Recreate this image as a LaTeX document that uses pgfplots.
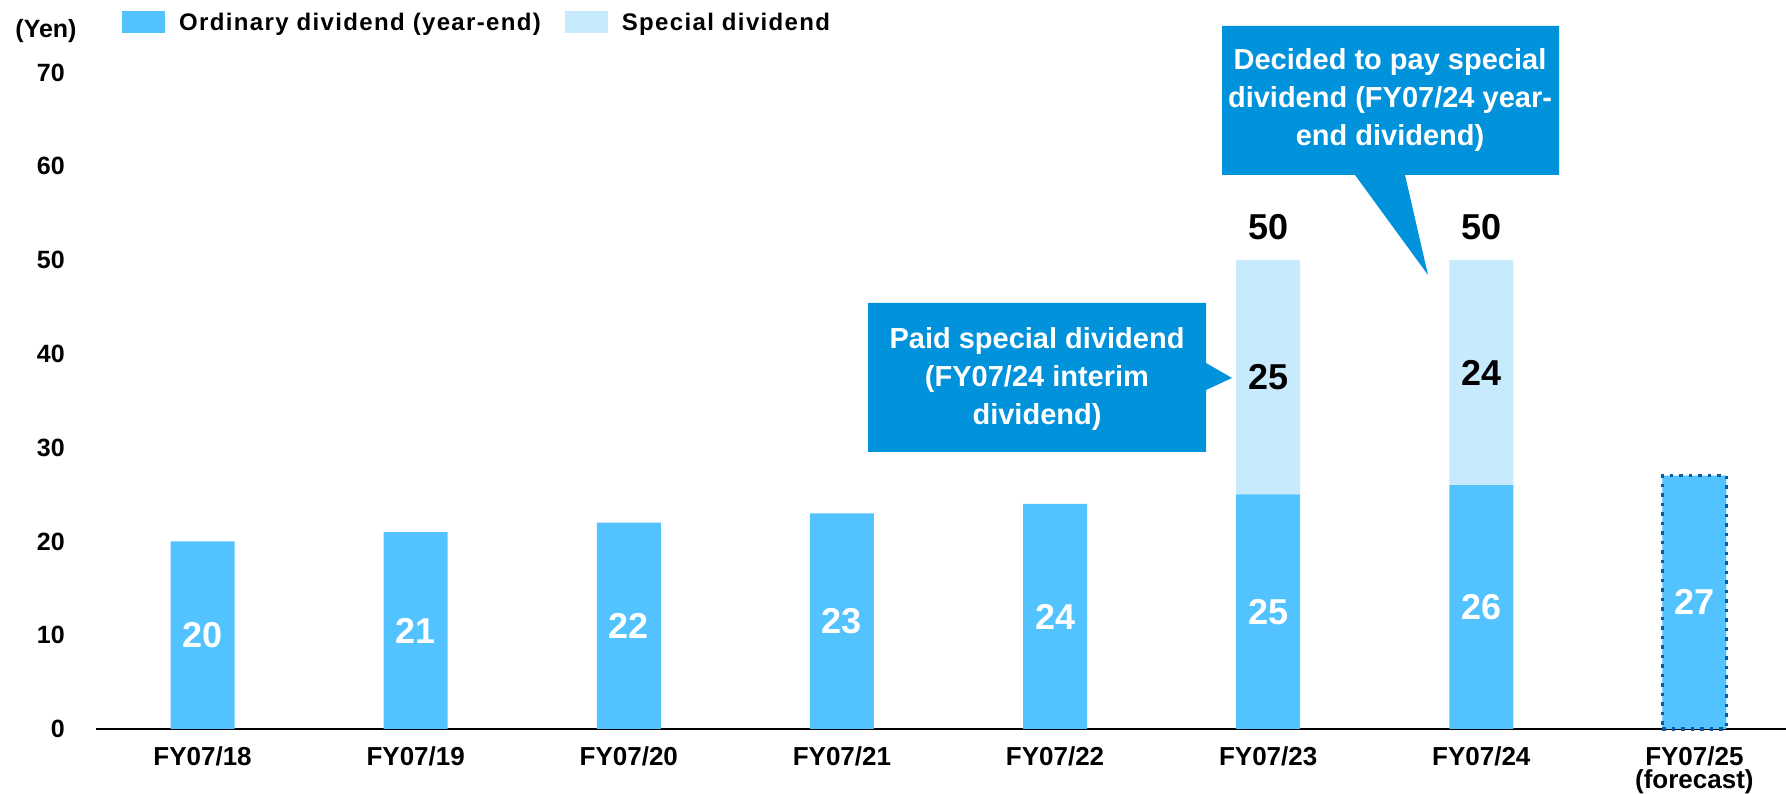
\documentclass[border=0pt]{standalone}
\usepackage{pgfplots}
\pgfplotsset{compat=1.18}
\usepackage{fontspec}
\setmainfont{Liberation Sans}
\newfontfamily\legfont{Liberation Sans}[LetterSpace=5.6]
\definecolor{ord}{HTML}{52C3FF}
\definecolor{spec}{HTML}{C7EBFD}
\definecolor{call}{HTML}{0092DA}
\definecolor{dotc}{HTML}{0A5C9C}

\pgfplotsset{base/.style={
  scale only axis, width=1690pt, height=656.6pt,
  at={(96pt,65pt)}, anchor=south west,
  xmin=-0.5, xmax=7.43, ymin=0, ymax=70,
}}

\begin{document}
\begin{tikzpicture}
\useasboundingbox (0,0) rectangle (1786pt,794pt);
\begin{axis}[base,
  ybar stacked, bar width=64pt,
  axis x line*=bottom, axis y line*=left,
  y axis line style={draw=none},
  x axis line style={black, line width=2.2pt, -},
  major tick length=0pt,
  xtick={0,...,7},
  xticklabels={FY07/18,FY07/19,FY07/20,FY07/21,FY07/22,FY07/23,FY07/24,{FY07/25\\(forecast)}},
  ytick={0,10,...,70},
  /pgf/number format/assume math mode=true,
  xticklabel style={font=\fontsize{26}{23}\selectfont\bfseries, align=center, inner sep=0pt, yshift=-17pt, anchor=north},
  yticklabel style={font=\fontsize{25}{30}\selectfont\bfseries, inner sep=0pt, anchor=east, xshift=-31pt},
  legend image code/.code={\path[#1, draw=none] (0pt,-11pt) rectangle (43pt,11pt);},
  legend style={at={(axis description cs:0.0154,1.076)}, anchor=west, draw=none, fill=none, inner sep=0pt,
    legend columns=-1, font=\legfont\bfseries\fontsize{24}{28}\selectfont,
    /tikz/every odd column/.append style={column sep=12pt},
    /tikz/every even column/.append style={column sep=22pt}},
]
\addplot[fill=ord, draw=none] coordinates {(0,20) (1,21) (2,22) (3,23) (4,24) (5,25) (6,26) (7,27)};
\addplot[fill=spec, draw=none] coordinates {(0,0) (1,0) (2,0) (3,0) (4,0) (5,25) (6,24) (7,0)};
\legend{Ordinary dividend (year-end), Special dividend}
\end{axis}

\begin{axis}[base, hide axis, clip=false]
\addplot[ybar, bar width=64pt, bar shift=0pt, fill=none, draw=dotc, line width=3.5pt, dash pattern=on 3.5pt off 6pt] coordinates {(7,27)};
\addplot[draw=none, mark=none, nodes near coords, point meta=explicit symbolic,
  nodes near coords style={anchor=center, text=white, font=\fontsize{36}{40}\selectfont\bfseries}]
  table[meta=lab] {
x y lab
0 10 20
1 10.5 21
2 11 22
3 11.5 23
4 12 24
5 12.5 25
6 13 26
7 13.5 27
};
\addplot[draw=none, mark=none, nodes near coords, point meta=explicit symbolic,
  nodes near coords style={anchor=center, text=black, font=\fontsize{36}{40}\selectfont\bfseries}]
  table[meta=lab] {
x y lab
5 37.5 25
6 38 24
5 53.5 50
6 53.5 50
};
\end{axis}

\fill[call] (868pt,342pt) -- (1206pt,342pt) -- (1206pt,404pt) -- (1232pt,416pt) -- (1206pt,431pt) -- (1206pt,491pt) -- (868pt,491pt) -- cycle;
\node[text=white, font=\fontsize{29}{38}\selectfont\bfseries, align=center] at (1037pt,415pt) {Paid special dividend\\(FY07/24 interim\\dividend)};
\fill[call] (1222pt,619pt) -- (1355pt,619pt) -- (1428pt,519pt) -- (1405pt,619pt) -- (1559pt,619pt) -- (1559pt,768pt) -- (1222pt,768pt) -- cycle;
\node[text=white, font=\fontsize{29}{38}\selectfont\bfseries, align=center] at (1390pt,694pt) {Decided to pay special\\dividend (FY07/24 year-\\end dividend)};
\node[font=\fontsize{25}{30}\selectfont\bfseries] at (46pt,763pt) {(Yen)};
\end{tikzpicture}
\end{document}
